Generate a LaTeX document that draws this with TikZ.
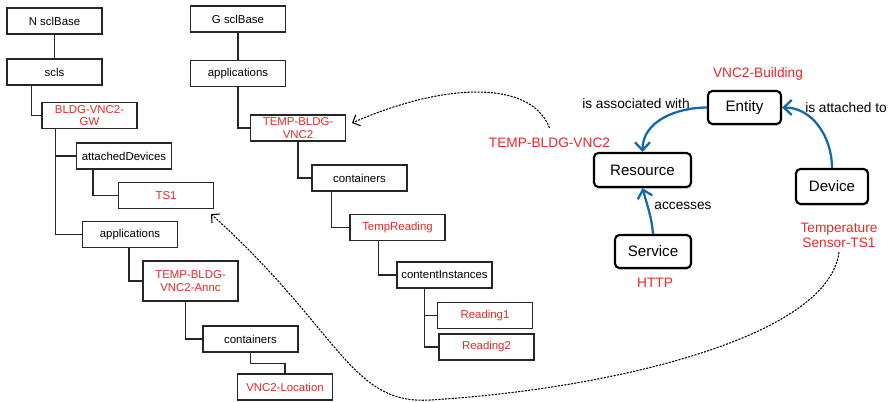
\documentclass[tikz,border=0pt]{standalone}
\usepackage{fontspec}
\setmainfont{Liberation Sans}
\usetikzlibrary{arrows.meta, positioning, shadows}
\definecolor{vred}{RGB}{232,40,38}
\definecolor{vblue}{RGB}{22,104,172}
\begin{document}
\begin{tikzpicture}[
    x=0.02cm, y=-0.02cm,
    tb/.style={rectangle, draw=black!85, line width=0.6pt, fill=white, minimum width=1.9cm, minimum height=0.52cm, inner sep=0.3pt, align=center, font=\fontsize{6.5}{7.3}\selectfont},
    tr/.style={tb, text=vred},
    rb/.style={rectangle, draw, rounded corners=2.5pt, line width=1.2pt, fill=white, font=\fontsize{8.6}{10}\selectfont, drop shadow={shadow xshift=0.4pt, shadow yshift=-1pt, opacity=0.25, fill=black!60}},
    ln/.style={line width=0.6pt, black!85},
    ba/.style={-{Straight Barb[length=1.6mm, width=3mm]}, line width=1.3pt, vblue},
    da/.style={-{Straight Barb[length=1.2mm, width=2.4mm]}, line width=0.6pt, dash pattern=on 1.2pt off 0.7pt},
    lb/.style={font=\fontsize{7.8}{8.6}\selectfont, inner sep=0pt},
    rl/.style={lb, text=vred, align=center},
]
\useasboundingbox (0,0) rectangle (893,402);

\node[tb] (nb) at (54.5,21) {N sclBase};
\node[tb] (scls) at (54.5,72) {scls};
\node[tr] (gw) at (89.5,115.5) {BLDG-VNC2-\\GW};
\node[tb] (att) at (124,156) {attachedDevices};
\node[tr] (ts) at (166,195.5) {TS1};
\node[tb] (appn) at (130,234.5) {applications};
\node[tr, minimum height=0.8cm] (annc) at (190.5,281) {TEMP-BLDG-\\VNC2-Annc};
\node[tb] (cn) at (250.5,339) {containers};
\node[tr] (loc) at (285,387) {VNC2-Location};

\node[tb] (gb) at (238,19) {G sclBase};
\node[tb] (appg) at (238,73.5) {applications};
\node[tr] (tbv) at (298,128) {TEMP-BLDG-\\VNC2};
\node[tb] (cg) at (359.5,178) {containers};
\node[tr] (trd) at (397.5,227.5) {TempReading};
\node[tb] (ci) at (444.5,275) {contentInstances};
\node[tr] (r1) at (485,315.5) {Reading1};
\node[tr] (r2) at (486.5,347) {Reading2};

\draw[ln] (nb) -- (scls);
\draw[ln] ([xshift=0.5cm]scls.south west) |- (gw.west);
\draw[ln] ([xshift=0.28cm]gw.south west) |- (att.west);
\draw[ln] ([xshift=0.28cm]gw.south west) |- (appn.west);
\draw[ln] ([xshift=0.34cm]att.south west) |- (ts.west);
\draw[ln] ([xshift=0.94cm]appn.south west) |- (annc.west);
\draw[ln] ([xshift=0.86cm]annc.south west) |- (cn.west);
\draw[ln] ([xshift=0.96cm]cn.south west) -- ++(0,11) -| (loc.north);
\draw[ln] (gb) -- (appg);
\draw[ln] (appg.south) |- (tbv.west);
\draw[ln] ([xshift=0.96cm]tbv.south west) |- (cg.west);
\draw[ln] ([xshift=0.4cm]cg.south west) |- (trd.west);
\draw[ln] ([xshift=0.58cm]trd.south west) |- (ci.west);
\draw[ln] ([xshift=0.56cm]ci.south west) |- (r1.west);
\draw[ln] ([xshift=0.56cm]ci.south west) |- (r2.west);

\node[rb, minimum width=1.46cm, minimum height=0.66cm] (ent) at (744.5,107.5) {Entity};
\node[rb, minimum width=1.94cm, minimum height=0.68cm] (res) at (642.5,170) {Resource};
\node[rb, minimum width=1.44cm, minimum height=0.7cm] (dev) at (832,186.5) {Device};
\node[rb, minimum width=1.52cm, minimum height=0.66cm] (svc) at (653,251.5) {Service};

\node[rl] (bld) at (758,74) {VNC2-Building};
\node[lb] (asc) at (636,104) {is associated with};
\node[lb] (atl) at (846,108) {is attached to};
\node[rl] (tbl) at (549.5,143) {TEMP-BLDG-VNC2};
\node[lb] (acc) at (683,206) {accesses};
\node[rl] (tsl) at (839,235.5) {Temperature\\Sensor-TS1};
\node[rl] (http) at (655,283) {HTTP};

\draw[ba] (ent.west) to[out=180, in=90] (res.north);
\draw[ba] (dev.north) to[out=90, in=0] (ent.east);
\draw[ba] (svc.north) to[out=95, in=-75] (res.south);

\draw[da] ([yshift=0.2cm]tbl.north) .. controls (530,78) and (440,84) .. ([xshift=0.12cm, yshift=0.1cm]tbv.east);
\draw[da] ([yshift=-0.08cm]tsl.south) .. controls (828,340) and (600,390) .. (430,400) .. controls (350,405) and (340,330) .. ([xshift=-0.06cm, yshift=-0.1cm]ts.south east);
\end{tikzpicture}
\end{document}
